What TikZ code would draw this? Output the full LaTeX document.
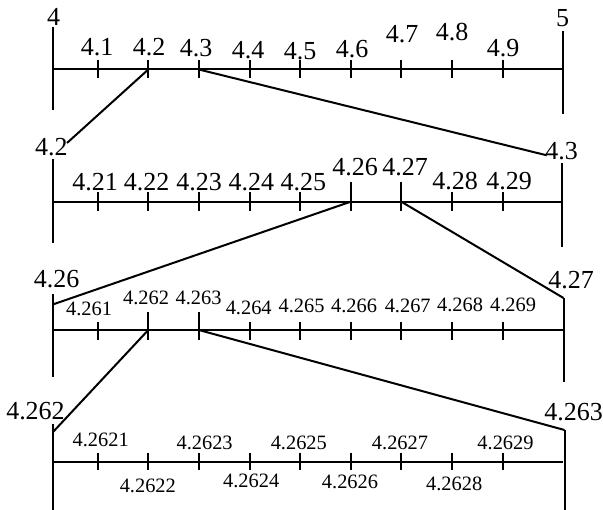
\documentclass[tikz,border=0pt]{standalone}
\usepackage{fontspec}
\setmainfont{Liberation Serif}
\begin{document}
\begin{tikzpicture}[x=0.75pt,y=-0.75pt,line width=1.5pt,
  big/.style={font=\fontsize{19.5}{21}\selectfont,inner sep=0pt},
  small/.style={font=\fontsize{15.3}{17}\selectfont,inner sep=0pt},
  axisline/.style={line width=1.5pt},
  link/.style={line width=1.5pt}]
\useasboundingbox (0,0) rectangle (603,510);

% ---------- tick coordinates ----------
\foreach \i in {1,...,9}{
  \coordinate (r1t\i) at ({97.7+50.6*(\i-1)},69.5);
  \coordinate (r2t\i) at ({97.7+50.6*(\i-1)},201.7);
  \coordinate (r3t\i) at ({97.7+50.6*(\i-1)},330);
  \coordinate (r4t\i) at ({97.7+50.6*(\i-1)},461.7);
}

% ---------- row 1 ----------
\coordinate (r1L) at (53.3,69.5);
\coordinate (r1R) at (562.5,69.5);
\draw[axisline] (r1L) -- (r1R);
\draw[axisline] (53.3,27) -- (53.3,110);
\draw[axisline] (562.5,31) -- (562.5,114);
\foreach \i in {1,...,9}{\draw (r1t\i) ++(0,-9.5) -- ++(0,18);}
\node[big] (e1a) at (53.5,17) {4};
\node[big] (e1b) at (562.5,18) {5};
\node[big] (l11) at (97,47.5) {4.1};
\node[big] (l12) at (149,47.5) {4.2};
\node[big] (l13) at (196,48) {4.3};
\node[big] (l14) at (248,50) {4.4};
\node[big] (l15) at (300,51) {4.5};
\node[big] (l16) at (352,49) {4.6};
\node[big] (l17) at (402,34) {4.7};
\node[big] (l18) at (452,32) {4.8};
\node[big] (l19) at (503,48) {4.9};

% ---------- row 2 ----------
\coordinate (r2L) at (53.3,201.7);
\coordinate (r2R) at (562.3,201.7);
\draw[axisline] (r2L) -- (r2R);
\draw[axisline] (53.3,159.3) -- (53.3,242.7);
\draw[axisline] (562.3,163) -- (562.3,247);
\foreach \i in {1,2,3,4,5,8,9}{\draw (r2t\i) ++(0,-9.7) -- ++(0,19);}
\foreach \i in {6,7}{\draw (r2t\i) ++(0,-19.7) -- ++(0,29);}
\node[big] (e2a) at (51.3,146.7) {4.2};
\node[big] (e2b) at (561.7,151.3) {4.3};
\node[big] (l21) at (95,181.7) {4.21};
\node[big] (l22) at (146.7,181.7) {4.22};
\node[big] (l23) at (199,181.7) {4.23};
\node[big] (l24) at (251.3,181.7) {4.24};
\node[big] (l25) at (303.3,181.7) {4.25};
\node[big] (l26) at (355,166.7) {4.26};
\node[big] (l27) at (405,167) {4.27};
\node[big] (l28) at (455,180.7) {4.28};
\node[big] (l29) at (509,180.7) {4.29};

% ---------- row 3 ----------
\coordinate (r3L) at (53.3,330);
\coordinate (r3R) at (563.5,330);
\draw[axisline] (r3L) -- (r3R);
\draw[axisline] (53.3,294) -- (53.3,376.5);
\draw[axisline] (563.5,298) -- (563.5,381.7);
\foreach \i in {1,4,5,6,7,8,9}{\draw (r3t\i) ++(0,-8.3) -- ++(0,18.3);}
\foreach \i in {2,3}{\draw (r3t\i) ++(0,-18.3) -- ++(0,28.3);}
\node[big] (e3a) at (56.5,279.5) {4.26};
\node[big] (e3b) at (571,280.5) {4.27};
\node[small] (l31) at (89,308.5) {4.261};
\node[small] (l32) at (146,298.3) {4.262};
\node[small] (l33) at (198.5,297.5) {4.263};
\node[small] (l34) at (248.7,307.5) {4.264};
\node[small] (l35) at (301.5,305.5) {4.265};
\node[small] (l36) at (354,305.5) {4.266};
\node[small] (l37) at (407.7,305.5) {4.267};
\node[small] (l38) at (460,305) {4.268};
\node[small] (l39) at (513,305) {4.269};

% ---------- row 4 ----------
\coordinate (r4L) at (53.3,461.7);
\coordinate (r4R) at (563,461.7);
\draw[axisline] (r4L) -- (r4R);
\draw[axisline] (53.3,424) -- (53.3,510);
\draw[axisline] (564.5,430) -- (564.5,510);
\foreach \i in {1,...,9}{\draw (r4t\i) ++(0,-9) -- ++(0,17.3);}
\node[big] (e4a) at (35.5,411) {4.262};
\node[big] (e4b) at (573.7,411.7) {4.263};
\node[small] (l41) at (100.7,439.7) {4.2621};
\node[small] (l42) at (147.8,486) {4.2622};
\node[small] (l43) at (204.6,442.5) {4.2623};
\node[small] (l44) at (251.2,480.7) {4.2624};
\node[small] (l45) at (298.8,442.7) {4.2625};
\node[small] (l46) at (350,482.3) {4.2626};
\node[small] (l47) at (400,443) {4.2627};
\node[small] (l48) at (454.2,483.7) {4.2628};
\node[small] (l49) at (505.5,443) {4.2629};

% ---------- zoom connectors ----------
\coordinate (c1a) at (67,143);
\coordinate (c1b) at (546.7,155.3);
\coordinate (c2a) at (53.3,304.3);
\coordinate (c2b) at (563.5,298);
\coordinate (c3a) at (53.3,431.7);
\coordinate (c3b) at (564.5,430);
\draw[link] (r1t2) -- (c1a);
\draw[link] (r1t3) -- (c1b);
\draw[link] (r2t6) -- (c2a);
\draw[link] (r2t7) -- (c2b);
\draw[link] (r3t2) -- (c3a);
\draw[link] (r3t3) -- (c3b);
\end{tikzpicture}
\end{document}
